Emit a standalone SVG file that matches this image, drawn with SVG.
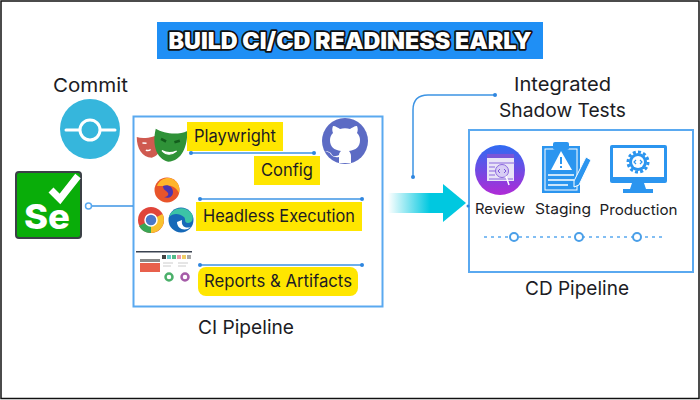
<svg xmlns="http://www.w3.org/2000/svg" width="700" height="400" viewBox="0 0 700 400">
<style>
text{font-family:"Inter","Noto Sans","Liberation Sans",sans-serif;fill:#1c1c24;text-anchor:middle}
.t18{font-size:19px}.t16{font-size:17px}.t13{font-size:14.5px}
.box{fill:#fff;stroke:#5aa9f0;stroke-width:2}
.y{fill:#ffe600}
.wire{fill:none;stroke:#3c94e4;stroke-width:1.5}
.dot{fill:#2f86df}
.ring{fill:#fff;stroke:#4a9fe8;stroke-width:2}
.blue{fill:#2b95ef}
</style>
<defs>
<linearGradient id="arrowFade" x1="0" x2="1" y1="0" y2="0"><stop offset="0" stop-color="#00c8e0" stop-opacity="0"/><stop offset="0.75" stop-color="#00c8e0"/></linearGradient>
<linearGradient id="reviewFill" x1="0" x2="0" y1="0" y2="1"><stop offset="0" stop-color="#2f6bf2"/><stop offset="1" stop-color="#b02bd6"/></linearGradient>
<path id="mask" d="M-15-13C-7-9 7-9 15-14C17 0 13 15 0 17C-12 15-17 2-15-13Z"/>
</defs>
<rect x="1" y="1" width="698" height="397.500" fill="#fff" stroke="#111" stroke-width="1.500"/>

<g id="title">
<rect x="157" y="22" width="386" height="37" fill="#1f8ff5"/>
<text x="350" y="48.500" font-size="23" font-weight="900" textLength="363" lengthAdjust="spacingAndGlyphs" style="fill:#fff;stroke:#111;stroke-width:3.500;paint-order:stroke;stroke-linejoin:round">BUILD CI/CD READINESS EARLY</text>
</g>

<g id="commit">
<text class="t18" x="90.500" y="91.500" textLength="75" lengthAdjust="spacingAndGlyphs">Commit</text>
<circle cx="90" cy="129" r="30" fill="#36b6dc"/>
<circle cx="90" cy="130" r="10" fill="none" stroke="#fff" stroke-width="3"/>
<path d="M66 130H79M101 130H115" stroke="#fff" stroke-width="3" stroke-linecap="round" fill="none"/>
</g>

<g id="selenium">
<rect x="16" y="172" width="65" height="66" rx="3" fill="#09ad09" stroke="#3b4046" stroke-width="2"/>
<text x="47" y="229" font-size="34" font-weight="800" textLength="46" lengthAdjust="spacingAndGlyphs" style="fill:#fff">Se</text>
<path d="M51 190L60 199L78 176" fill="none" stroke="#fff" stroke-width="7"/>
</g>

<g id="ci-pipeline">
<rect class="box" x="133.500" y="116.500" width="249" height="190"/>
<text class="t18" x="246" y="334" textLength="96" lengthAdjust="spacingAndGlyphs">CI Pipeline</text>
</g>

<g id="playwright-icon">
<g transform="translate(150,145) rotate(-8) scale(0.8,0.75)"><use href="#mask" fill="#cf5a50"/><path d="M-9-4l5 1M-6 6q3 2 6 0" stroke="#fff" stroke-width="2" fill="none"/></g>
<g transform="translate(170,144) rotate(6) scale(1.05)"><use href="#mask" fill="#2f9238"/><path d="M-9-4l5 2M9-4l-5 2" stroke="#135d1c" stroke-width="2.500" fill="none"/><path d="M-7 7q7 3 14-1q-7 7-14 1Z" fill="#fff" stroke="#fff"/></g>
</g>

<g id="playwright-label">
<rect class="y" x="187" y="122" width="96" height="29"/>
<text class="t16" x="235" y="142" textLength="82" lengthAdjust="spacingAndGlyphs">Playwright</text>
</g>
<g id="config-label">
<rect class="y" x="254" y="156" width="66" height="29"/>
<text class="t16" x="287" y="176" textLength="52" lengthAdjust="spacingAndGlyphs">Config</text>
</g>
<g id="github-icon">
<circle cx="345" cy="141" r="23" fill="#5c6bc4"/>
<path d="M339 163v-6c-6 1-8-2-9-4l-5-2c3 0 6 1 7 4c2 2 5 1 7 0c0-2 1-3 2-4c-7-1-11-4-11-11c0-3 1-5 3-7c-1-2-1-5 0-7c3 0 5 2 7 3c3-1 7-1 10 0c2-1 4-3 7-3c1 2 1 5 0 7c2 2 3 4 3 7c0 7-4 10-11 11c1 1 2 3 2 5v7Z" fill="#fff"/>
</g>

<g id="firefox-icon">
<circle cx="167" cy="190" r="12.500" fill="#e8542a"/>
<path d="M157 186c3-8 12-10 17-6c5 3 6 8 5 13c-3-6-8-8-12-7Z" fill="#ffb52a"/>
<path d="M163 186c5-2 10 1 10 6c0 5-5 7-9 5c3 0 5-2 4-4c-2-3-5-3-5-7Z" fill="#4a35b0"/>
</g>
<g id="chrome-icon">
<circle cx="151" cy="220" r="13" fill="#e0453a"/>
<path d="M151 220L139 226A13 13 0 0 0 151 233Z" fill="#3aa655"/>
<path d="M151 220V233A13 13 0 0 0 162.500 214Z" fill="#f9c22e"/>
<circle cx="151" cy="220" r="6" fill="#4a78c9" stroke="#fff" stroke-width="1.500"/>
</g>
<g id="edge-icon">
<circle cx="181" cy="220" r="12.500" fill="#1669b8"/>
<path d="M169 217c3-10 17-12 23-3c2 5 0 9-4 9c-4 0-2-4-4-6c-5-4-11-4-15 0Z" fill="#3cc4a6"/>
<path d="M177 222c0 7 8 10 14 5c-6 2-10-1-9-7Z" fill="#fff"/>
</g>

<g id="headless-label">
<rect class="y" x="196" y="202" width="166" height="29"/>
<text class="t16" x="279" y="222" textLength="152" lengthAdjust="spacingAndGlyphs">Headless Execution</text>
</g>

<g id="reports-icon">
<rect x="136" y="251" width="56" height="1.500" fill="#3a4250"/>
<rect x="140" y="259" width="20" height="3" fill="#8a8a8a"/>
<rect x="140" y="263" width="20" height="9" fill="#e8604c"/>
<rect x="162" y="255" width="4" height="4" fill="#444"/>
<rect x="167" y="255" width="4" height="4" fill="#6cc"/><rect x="172" y="255" width="4" height="4" fill="#5b8"/><rect x="177" y="255" width="4" height="4" fill="#e9a"/><rect x="182" y="255" width="4" height="4" fill="#ec6"/><rect x="187" y="255" width="4" height="4" fill="#aaa"/>
<path d="M163 263h10M163 266h8M178 263h10M178 266h8" stroke="#ccc"/>
<circle cx="169" cy="277" r="3.500" fill="none" stroke="#4bb06a" stroke-width="2.500"/>
<circle cx="185" cy="277" r="3.500" fill="none" stroke="#a55ca8" stroke-width="2.500"/>
</g>
<g id="reports-label">
<rect class="y" x="198" y="267" width="160" height="29" rx="8"/>
<text class="t16" x="278" y="287" textLength="148" lengthAdjust="spacingAndGlyphs">Reports &amp; Artifacts</text>
</g>

<g id="arrow">
<rect x="388" y="193" width="56" height="20" fill="url(#arrowFade)"/>
<path d="M443 184L466 203L443 222Z" fill="#00c8e0"/>
</g>

<g id="integrated-label">
<text class="t18" x="562.500" y="91" textLength="97" lengthAdjust="spacingAndGlyphs">Integrated</text>
<text class="t18" x="562.500" y="117" textLength="127" lengthAdjust="spacingAndGlyphs">Shadow Tests</text>
</g>

<g id="cd-pipeline">
<rect class="box" x="469" y="130" width="224" height="142"/>
<text class="t18" x="577" y="295" textLength="104" lengthAdjust="spacingAndGlyphs">CD Pipeline</text>
</g>

<g id="review">
<circle cx="500" cy="170" r="25" fill="url(#reviewFill)"/>
<rect x="487" y="154" width="27" height="27" fill="#e9e4f7"/>
<rect x="487" y="154" width="27" height="4" fill="#7a55d8"/>
<path d="M489 163h26M489 167h6M489 171h6M489 175h6M489 179h24" stroke="#8a66dd" stroke-width="1.200"/>
<circle cx="502" cy="171" r="6.500" fill="#d8cdf5" stroke="#8a66dd"/>
<path d="M500 169l-2 2l2 2M504 169l2 2l-2 2" fill="none" stroke="#7a55d8"/>
<path d="M506 176L509 185" stroke="#fff" stroke-width="1.500"/>
<text class="t13" x="500" y="214" textLength="50" lengthAdjust="spacingAndGlyphs">Review</text>
</g>
<g id="staging">
<rect class="blue" x="542" y="146" width="38" height="47"/>
<rect x="545" y="149" width="32" height="41" fill="none" stroke="#fff"/>
<rect class="blue" x="553" y="142" width="16" height="8" rx="2"/>
<path d="M561 151L572 170H551Z" fill="#fff"/>
<path d="M561 157v7M561 166v2" stroke="#2b95ef" stroke-width="2"/>
<path d="M548 175h26M548 180h26M548 185h20" stroke="#fff" stroke-width="1.500"/>
<path d="M586 157L591 160L579 185L574 187L574 181Z" class="blue" stroke="#fff"/>
<text class="t13" x="563" y="214" textLength="56" lengthAdjust="spacingAndGlyphs">Staging</text>
</g>
<g id="production">
<rect class="blue" x="610" y="145" width="57" height="38" rx="2"/>
<rect x="613" y="148" width="51" height="29" fill="#fff"/>
<circle cx="638" cy="162" r="9" fill="#2b95ef"/>
<circle cx="638" cy="162" r="10" fill="none" stroke="#2b95ef" stroke-width="3" stroke-dasharray="3 2.200"/>
<circle cx="638" cy="162" r="6" fill="#fff"/>
<path d="M636 160l-2 2l2 2M640 160l2 2l-2 2" fill="none" stroke="#2b95ef" stroke-width="1.200"/>
<path d="M632 183h12l2 6h7v4h-30v-4h7Z" class="blue"/>
<text class="t13" x="638.500" y="215" textLength="78" lengthAdjust="spacingAndGlyphs">Production</text>
</g>

<g id="connectors">
<path class="wire" d="M92 206H133"/>
<circle cx="88.500" cy="206" r="3" fill="#fff" stroke="#5aa9f0" stroke-width="1.500"/>
<path class="wire" d="M191 153H314"/>
<circle class="dot" cx="191" cy="153" r="2"/><circle class="dot" cx="314" cy="153" r="2"/>
<path class="wire" d="M200 199H362"/>
<circle class="dot" cx="200" cy="199" r="2"/><circle class="dot" cx="362" cy="199" r="2"/>
<path class="wire" d="M200 265H362"/>
<circle class="dot" cx="200" cy="265" r="2"/><circle class="dot" cx="362" cy="265" r="2"/>
<path class="wire" d="M413 177V110Q413 95 428 95H495"/>
<circle class="dot" cx="413" cy="177" r="2"/><circle class="dot" cx="495" cy="95" r="2"/>
<circle class="dot" cx="468" cy="206" r="1.500"/>
<path d="M484 237H662" fill="none" stroke="#5aa9f0" stroke-width="1.500" stroke-dasharray="3 4"/>
<circle class="ring" cx="514" cy="237" r="4"/><circle class="ring" cx="579" cy="237" r="4"/><circle class="ring" cx="637" cy="237" r="4"/>
</g>
</svg>
